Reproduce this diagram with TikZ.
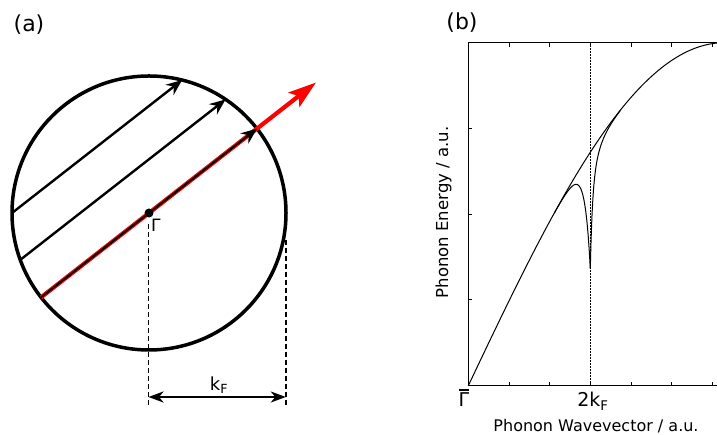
\documentclass[tikz,border=0pt]{standalone}
\usepackage{fontspec}
\setmainfont{DejaVu Sans}
\usetikzlibrary{arrows.meta,calc}
\begin{document}
\begin{tikzpicture}[x=1pt,y=1pt,
  chordarrow/.style={line width=2.4pt,-{Stealth[length=16pt,width=13pt,inset=5.5pt]}},
  redarrow/.style={red,line width=4.2pt,-{Stealth[length=28pt,width=18pt,inset=6pt]}},
  dimline/.style={line width=1.8pt,dash pattern=on 5pt off 3pt},
  dimarrow/.style={line width=2.4pt,{Stealth[length=15pt,width=11pt,inset=4.5pt]}-{Stealth[length=15pt,width=11pt,inset=4.5pt]}},
  frame/.style={line width=1.4pt},
  tick/.style={line width=0.9pt},
  curve/.style={line width=1pt},
  guide/.style={line width=0.6pt,dash pattern=on 2pt off 1pt},
  lbl/.style={inner sep=0pt,font=\fontsize{16}{19}\selectfont},
  ticklbl/.style={inner sep=0pt,font=\fontsize{19}{22}\selectfont},
  panel/.style={inner sep=0pt,font=\fontsize{22}{26}\selectfont}]
\useasboundingbox (0,0) rectangle (717,435);
% ---------- panel (a) ----------
\coordinate (C) at (149,222);
\coordinate (A1) at ($(C)+(180:137)$);
\coordinate (A2) at ($(C)+(76:137)$);
\coordinate (B1) at ($(C)+(200:137)$);
\coordinate (B2) at ($(C)+(56:137)$);
\coordinate (R1) at ($(C)+(218:137)$);
\coordinate (R2) at ($(C)+(38:137)$);
\coordinate (R3) at ($(C)+(38:212)$);
\draw[line width=3.5pt] (C) circle[radius=137];
\draw[redarrow] (R1) -- (R3);
\draw[chordarrow] (A1) -- (A2);
\draw[chordarrow] (B1) -- (B2);
\draw[chordarrow,line width=2pt] (R1) -- (R2);
\fill (C) circle[radius=4.5];
\node[inner sep=0pt,anchor=north west,font=\fontsize{17}{20}\selectfont] (gam) at (151,216) {Γ};
\coordinate (D1a) at (148.5,211);
\coordinate (D1b) at (148.5,30);
\coordinate (D2a) at (285.8,195);
\coordinate (D2b) at (285.8,30);
\draw[dimline] (D1a) -- (D1b);
\draw[dimline] (D2a) -- (D2b);
\coordinate (K1) at (148.5,38);
\coordinate (K2) at (285.8,38);
\draw[dimarrow] (K1) -- (K2);
\node[inner sep=0pt,anchor=base,font=\fontsize{18}{21}\selectfont] (kf) at (219,44.5) {k\textsubscript{F}};
\node[panel] (la) at (29,410) {(a)};
% ---------- panel (b) ----------
\node[panel] (lb) at (462,412) {(b)};
\coordinate (O) at (468.3,49.3);
\coordinate (OT) at (468.3,392.3);
\coordinate (BR) at (717,49.3);
\coordinate (TR) at (717,392.3);
\draw[frame] (TR) -- (OT) -- (O) -- (BR);
\foreach \i in {1,...,6} {
  \draw[tick] ($(O)+(40.67*\i,0)$) -- ++(0,4);
  \draw[tick] ($(OT)+(40.67*\i,0)$) -- ++(0,-4);
}
\foreach \j in {1,2,3} {
  \draw[tick] ($(O)+(0,85.75*\j)$) -- ++(4,0);
}
\coordinate (G1) at (590.3,49.3);
\coordinate (G2) at (590.3,392.3);
\draw[guide] (G1) -- (G2);
\draw[curve] plot[domain=0:248.7,samples=160] ({468.3+\x},{49.3+343*sin(0.3515625*\x)});
\draw[curve] plot[domain=86:122,samples=90] ({468.3+\x},{49.3+343*sin(0.3515625*\x)*(1-0.5*exp((\x-122)/5.86))});
\draw[curve] plot[domain=122:152,samples=120] ({468.3+\x},{49.3+343*sin(0.3515625*\x)*(1-0.5*(0.6*exp(-(\x-122)/2)+0.4*exp(-(\x-122)/6)))});
\node[ticklbl,anchor=base] (gb) at (464,28) {Γ};
\draw[line width=1.3pt] ($(gb.north west)+(0.3,3)$) -- ($(gb.north east)+(-0.3,3)$);
\node[ticklbl,anchor=base] (tk) at (593,28) {2k\textsubscript{F}};
\node[lbl,anchor=base] (xl) at (596,3) {Phonon Wavevector / a.u.};
\node[lbl,anchor=base,rotate=90,font=\fontsize{16.5}{19}\selectfont] (yl) at (448,222.5) {Phonon Energy / a.u.};
\end{tikzpicture}
\end{document}
